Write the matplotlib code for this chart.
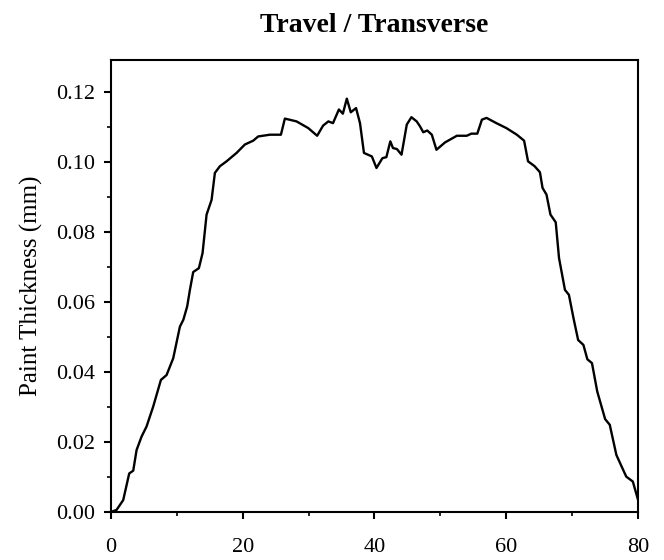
import matplotlib
matplotlib.use("Agg")
import matplotlib.pyplot as plt
from matplotlib.ticker import MultipleLocator

# position across the pattern and measured paint thickness (mm)
pos = [0, 0.86, 1.87, 2.78, 3.39, 3.9, 4.65, 5.41, 6.42, 7.59,
       8.45, 9.46, 10.47, 11.0, 11.58, 11.99, 12.49, 13.35, 13.91, 14.52,
       15.28, 15.78, 16.54, 17.55, 19.07, 20.33, 21.6, 22.35, 24.13, 25.8,
       26.4, 28.17, 29.94, 31.3, 32.2, 33.0, 33.7, 34.6, 35.2, 35.8,
       36.4, 37.2, 37.8, 38.4, 39.6, 40.3, 41.2, 41.8, 42.4, 42.8,
       43.4, 44.1, 44.9, 45.6, 46.4, 46.9, 47.4, 48.0, 48.7, 49.4,
       50.7, 52.5, 54.0, 54.7, 55.6, 56.3, 57.0, 58.5, 60.0, 61.6,
       62.7, 63.3, 64.3, 65.1, 65.5, 66.1, 66.7, 67.5, 68.0, 68.9,
       69.5, 70.2, 70.9, 71.7, 72.3, 73.0, 73.8, 75.0, 75.7, 76.7,
       78.2, 79.2, 80.0]
thick = [0, 0.0006, 0.0034, 0.011, 0.0118, 0.0177, 0.0215, 0.0244, 0.0301, 0.0377,
         0.0391, 0.0439, 0.0529, 0.0549, 0.0587, 0.0634, 0.0685, 0.0696, 0.0739, 0.0849,
         0.0891, 0.0968, 0.0987, 0.1001, 0.1025, 0.1049, 0.106, 0.1072, 0.1077, 0.1077,
         0.1123, 0.1115, 0.1096, 0.1074, 0.1103, 0.1115, 0.111, 0.1149, 0.1137, 0.118,
         0.1141, 0.1153, 0.111, 0.1025, 0.1015, 0.0982, 0.101, 0.1013, 0.1058, 0.1039,
         0.1036, 0.102, 0.1106, 0.1127, 0.1115, 0.1101, 0.1084, 0.1089, 0.1077, 0.1034,
         0.1055, 0.1074, 0.1074, 0.108, 0.108, 0.112, 0.1125, 0.111, 0.1096, 0.1077,
         0.106, 0.1001, 0.0987, 0.097, 0.0925, 0.0906, 0.0849, 0.0827, 0.0725, 0.0634,
         0.062, 0.0553, 0.0491, 0.0477, 0.0436, 0.0425, 0.0344, 0.0265, 0.0249, 0.0163,
         0.0101, 0.0087, 0.0034]

plt.rcParams['font.family'] = ['Liberation Serif', 'DejaVu Serif']

fig = plt.figure(figsize=(6.64, 5.6), dpi=100)
ax = fig.add_axes([0.167, 0.0857, 0.794, 0.807])

ax.plot(pos, thick, color='black', linewidth=1.7)

ax.set_xlim(0, 80)
ax.set_ylim(0, 0.129)
ax.xaxis.set_major_locator(MultipleLocator(20))
ax.xaxis.set_minor_locator(MultipleLocator(10))
ax.yaxis.set_major_locator(MultipleLocator(0.02))
ax.yaxis.set_minor_locator(MultipleLocator(0.01))
ax.yaxis.set_major_formatter(plt.FormatStrFormatter('%.2f'))

ax.tick_params(which='major', direction='out', length=5, width=1.5, labelsize=16)
ax.tick_params(which='minor', direction='out', length=3, width=1.2)
ax.tick_params(axis='x', which='major', pad=14)
ax.tick_params(axis='y', which='major', pad=6)
for s in ax.spines.values():
    s.set_linewidth(1.5)

ax.set_ylabel('Paint Thickness (mm)', fontsize=18, labelpad=10)
ax.set_title('Travel / Transverse', fontsize=20, fontweight='bold', pad=20)

fig.savefig('out.png', dpi=100)
